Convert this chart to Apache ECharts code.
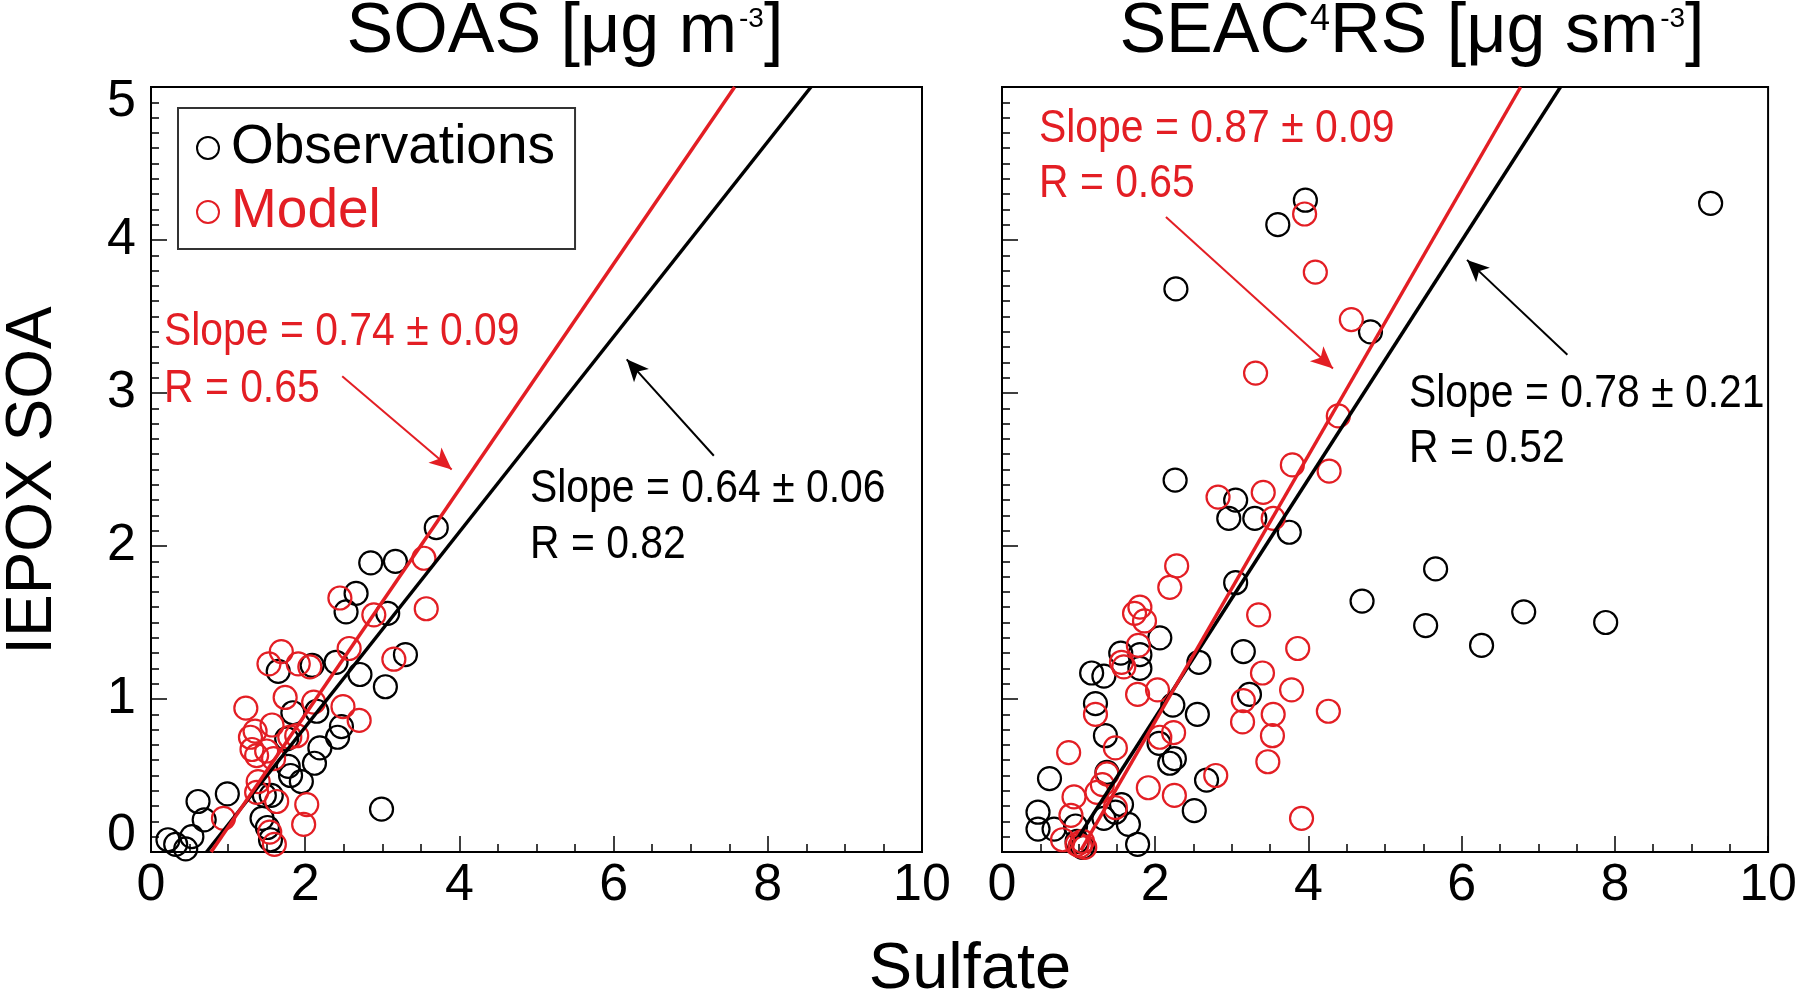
<!DOCTYPE html>
<html>
<head>
<meta charset="utf-8">
<script src="https://cdn.jsdelivr.net/npm/echarts@6/dist/echarts.min.js"></script>
<style>
html,body{margin:0;padding:0;background:#fff;}
#chart{width:1800px;height:991px;}
</style>
</head>
<body>
<div id="chart"></div>
<script>
// ---------------- data ----------------
const xRange = [0, 10];
const yRange = [0, 5];
const legendNames = ['Observations', 'Model'];
const yAxisTitle = 'IEPOX SOA';
const xAxisTitle = 'Sulfate';

// SOAS panel (left)
const soasObs = [
  [0.22,0.08],[0.32,0.05],[0.45,0.02],[0.53,0.10],[0.61,0.33],[0.69,0.21],[0.99,0.38],
  [1.44,0.22],[1.51,0.16],[1.55,0.08],[1.47,0.37],[1.56,0.37],[1.65,1.18],[1.76,0.74],
  [1.78,0.56],[1.81,0.50],[1.84,0.91],[1.95,0.46],[2.09,1.22],[2.12,0.58],[2.15,0.92],
  [2.19,0.68],[2.40,1.24],[2.42,0.75],[2.47,0.82],[2.53,1.57],[2.66,1.69],[2.71,1.16],
  [2.85,1.89],[2.99,0.28],[3.04,1.08],[3.07,1.56],[3.17,1.90],[3.30,1.29],[3.70,2.12]
];
const soasMod = [
  [0.94,0.22],[1.23,0.94],[1.29,0.75],[1.31,0.67],[1.35,0.79],[1.37,0.63],[1.39,0.46],
  [1.37,0.39],[1.50,0.66],[1.53,1.23],[1.54,0.13],[1.60,0.05],[1.57,0.83],[1.59,0.61],
  [1.63,0.33],[1.69,1.31],[1.74,1.01],[1.80,0.75],[1.89,0.76],[1.91,1.23],[1.98,0.18],
  [2.02,0.31],[2.06,1.21],[2.11,0.98],[2.45,1.66],[2.49,0.95],[2.57,1.33],[2.70,0.86],
  [2.89,1.55],[3.15,1.26],[3.54,1.92],[3.57,1.59]
];
const soasFitObs = [[0.72,0],[8.56,5]];
const soasFitMod = [[0.78,0],[7.57,5]];
const soasArrowMod = [[2.48,3.11],[3.90,2.50]];
const soasArrowObs = [[7.30,2.59],[6.17,3.22]];
const soasStatsMod = ['Slope = 0.74 ± 0.09', 'R = 0.65'];
const soasStatsObs = ['Slope = 0.64 ± 0.06', 'R = 0.82'];

// SEAC4RS panel (right)
const seacObs = [
  [0.47,0.26],[0.47,0.15],[0.62,0.48],[0.68,0.15],[0.96,0.17],[0.98,0.07],[1.05,0.03],
  [1.17,1.17],[1.22,0.97],[1.33,1.15],[1.33,0.22],[1.35,0.76],[1.37,0.52],[1.48,0.26],
  [1.56,0.31],[1.55,1.30],[1.65,0.18],[1.77,0.05],[1.80,1.29],[1.80,1.20],[2.05,0.71],
  [2.06,1.40],[2.19,0.58],[2.23,0.96],[2.25,0.61],[2.26,2.43],[2.27,3.68],[2.51,0.27],
  [2.55,0.90],[2.57,1.24],[2.67,0.47],[2.96,2.18],[3.05,2.30],[3.05,1.76],[3.15,1.31],
  [3.23,1.03],[3.30,2.18],[3.60,4.10],[3.75,2.09],[3.96,4.26],[4.70,1.64],[4.81,3.40],
  [5.53,1.48],[5.66,1.85],[6.26,1.35],[6.81,1.57],[7.88,1.50],[9.25,4.24]
];
const seacMod = [
  [0.79,0.08],[0.87,0.65],[0.90,0.24],[0.94,0.36],[0.98,0.05],[1.02,0.04],[1.05,0.07],
  [1.08,0.03],[1.22,0.90],[1.24,0.39],[1.31,0.44],[1.37,0.51],[1.48,0.68],[1.48,0.29],
  [1.56,1.24],[1.59,1.21],[1.73,1.56],[1.77,1.03],[1.78,1.35],[1.80,1.60],[1.86,1.51],
  [1.91,0.42],[2.03,1.06],[2.06,0.75],[2.19,1.73],[2.24,0.78],[2.25,0.37],[2.28,1.87],
  [2.79,0.50],[2.82,2.32],[3.14,0.85],[3.15,0.99],[3.31,3.13],[3.35,1.55],[3.40,1.17],
  [3.41,2.35],[3.47,0.59],[3.53,0.76],[3.54,0.90],[3.54,2.18],[3.78,1.06],[3.79,2.53],
  [3.86,1.33],[3.91,0.22],[3.95,4.17],[4.09,3.79],[4.26,0.92],[4.27,2.49],[4.39,2.85],
  [4.56,3.48]
];
const seacFitObs = [[1.00,0.10],[7.29,5]];
const seacFitMod = [[1.03,0.01],[6.77,5]];
const seacArrowMod = [[2.14,4.15],[4.32,3.16]];
const seacArrowObs = [[7.38,3.25],[6.07,3.87]];
const seacStatsMod = ['Slope = 0.87 ± 0.09', 'R = 0.65'];
const seacStatsObs = ['Slope = 0.78 ± 0.21', 'R = 0.52'];

// ---------------- styling ----------------
const FONT = "'Liberation Sans', Arial, Helvetica, sans-serif";
const RED = '#e31e24';
const BLACK = '#000000';
const NARROW = 0.87;

const chart = echarts.init(document.getElementById('chart'), null, {renderer: 'canvas'});

function xAxisCfg(gi) {
  return {
    type: 'value', gridIndex: gi, min: xRange[0], max: xRange[1], interval: 2,
    axisLine: {show: false},
    axisTick: {show: true, inside: true, length: 16, lineStyle: {color: BLACK, width: 1.5}},
    minorTick: {show: true, splitNumber: 4, length: 8, lineStyle: {color: BLACK, width: 1.5}},
    splitLine: {show: false}, minorSplitLine: {show: false},
    axisLabel: {show: true, fontSize: 52, color: BLACK, fontFamily: FONT, margin: 8}
  };
}
function yAxisCfg(gi, showLabels) {
  const cfg = {
    type: 'value', gridIndex: gi, min: yRange[0], max: yRange[1], interval: 1,
    axisLine: {show: false},
    axisTick: {show: true, inside: true, length: 16, lineStyle: {color: BLACK, width: 1.5}},
    minorTick: {show: true, splitNumber: 10, length: 8, lineStyle: {color: BLACK, width: 1.5}},
    splitLine: {show: false}, minorSplitLine: {show: false},
    axisLabel: {
      show: showLabels, fontSize: 52, color: BLACK, fontFamily: FONT, margin: 15,
      formatter: function (v) {
        if (v === yRange[1]) return '{top|' + v + '}';
        if (v === yRange[0]) return '{bot|' + v + '}';
        return String(v);
      },
      rich: {
        top: {fontSize: 52, fontFamily: FONT, color: BLACK, padding: [30, 0, 0, 0]},
        bot: {fontSize: 52, fontFamily: FONT, color: BLACK, padding: [0, 0, 32, 0]}
      }
    }
  };
  if (showLabels) {
    cfg.name = yAxisTitle;
    cfg.nameLocation = 'middle';
    cfg.nameRotate = 90;
    cfg.nameGap = 86;
    cfg.nameTextStyle = {fontSize: 64, color: BLACK, fontFamily: FONT, padding: [0, 22, 0, 0]};
  }
  return cfg;
}

function scatter(name, gi, data, color, z) {
  return {
    type: 'scatter', name: name, xAxisIndex: gi, yAxisIndex: gi, data: data,
    symbol: 'circle', symbolSize: 23, z: z,
    itemStyle: {color: 'rgba(255,255,255,0)', borderColor: color, borderWidth: 2.2, opacity: 1},
    emphasis: {disabled: true}, silent: true
  };
}
function fitLine(name, gi, data, color, arrow) {
  return {
    type: 'line', name: name, xAxisIndex: gi, yAxisIndex: gi, data: data,
    symbol: 'none', z: color === RED ? 6 : 5, silent: true,
    lineStyle: {color: color, width: 3.5},
    markLine: {
      silent: true, symbol: ['none', 'arrow'], symbolSize: [15, 22],
      label: {show: false},
      lineStyle: {color: color, width: 2, type: 'solid'},
      emphasis: {disabled: true},
      data: [[{coord: arrow[0]}, {coord: arrow[1]}]]
    }
  };
}

function textEl(x, y, text, color, size, scaleX, align) {
  return {
    type: 'text', x: x, y: y, scaleX: scaleX || 1, silent: true,
    style: {text: text, fill: color, fontSize: size, fontFamily: FONT,
            align: align || 'left', verticalAlign: 'middle'}
  };
}
function titleEl(x, y, isSeac) {
  const t = isSeac ? '{a|SEAC}{f|4}{a|RS [μg sm}{s|-3}{a|]}' : '{a|SOAS [μg m}{s|-3}{a|]}';
  return {
    type: 'text', x: x, y: y, silent: true,
    style: {
      text: t, align: 'center', verticalAlign: 'middle', fill: BLACK,
      fontSize: 70, fontFamily: FONT,
      rich: {
        a: {fontSize: 70, fontFamily: FONT, fill: BLACK, lineHeight: 74},
        s: {fontSize: 28, fontFamily: FONT, fill: BLACK, verticalAlign: 'top', lineHeight: 30, padding: [9, 0, 0, 2]},
        f: {fontSize: 36, fontFamily: FONT, fill: BLACK, verticalAlign: 'top', lineHeight: 38, padding: [6, 0, 0, 0]}
      }
    }
  };
}

const option = {
  animation: false,
  backgroundColor: '#ffffff',
  grid: [
    {left: 147, top: 87, width: 775, height: 765, show: true, borderColor: BLACK, borderWidth: 2, backgroundColor: 'rgba(0,0,0,0)'},
    {left: 1002, top: 87, width: 772, height: 765, show: true, borderColor: BLACK, borderWidth: 2, backgroundColor: 'rgba(0,0,0,0)'}
  ],
  xAxis: [xAxisCfg(0), xAxisCfg(1)],
  yAxis: [yAxisCfg(0, true), yAxisCfg(1, false)],
  legend: {
    show: true, orient: 'vertical', left: 178, top: 108,
    data: [
      {name: legendNames[0], textStyle: {color: BLACK}},
      {name: legendNames[1], textStyle: {color: RED}}
    ],
    icon: 'circle',
    itemWidth: 22, itemHeight: 22, itemGap: 8, itemTextGap: 30,
    padding: [12, 20, 9, 18],
    borderColor: '#333', borderWidth: 2, backgroundColor: '#fff',
    selectedMode: false,
    textStyle: {fontSize: 55, fontFamily: FONT, lineHeight: 56, padding: [0, 0, 0, 7]},
    z: 10
  },
  series: [
    scatter(legendNames[0], 0, soasObs, BLACK, 2),
    scatter(legendNames[1], 0, soasMod, RED, 3),
    fitLine('fitObsL', 0, soasFitObs, BLACK, soasArrowObs),
    fitLine('fitModL', 0, soasFitMod, RED, soasArrowMod),
    scatter(legendNames[0], 1, seacObs, BLACK, 2),
    scatter(legendNames[1], 1, seacMod, RED, 3),
    fitLine('fitObsR', 1, seacFitObs, BLACK, seacArrowObs),
    fitLine('fitModR', 1, seacFitMod, RED, seacArrowMod)
  ],
  graphic: [
    titleEl(565, 33, false),
    titleEl(1412, 33, true),
    textEl(970, 970, xAxisTitle, BLACK, 65, 1, 'center'),
    textEl(164, 332, soasStatsMod[0], RED, 47, NARROW),
    textEl(164, 389, soasStatsMod[1], RED, 47, NARROW),
    textEl(530, 489, soasStatsObs[0], BLACK, 47, NARROW),
    textEl(530, 545, soasStatsObs[1], BLACK, 47, NARROW),
    textEl(1039, 129, seacStatsMod[0], RED, 47, NARROW),
    textEl(1039, 184, seacStatsMod[1], RED, 47, NARROW),
    textEl(1409, 394, seacStatsObs[0], BLACK, 47, NARROW),
    textEl(1409, 449, seacStatsObs[1], BLACK, 47, NARROW)
  ]
};
chart.setOption(option);
</script>
</body>
</html>
